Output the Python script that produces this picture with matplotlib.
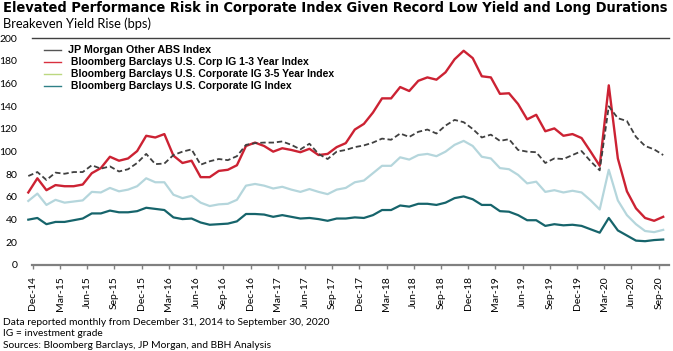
import numpy as np
import matplotlib.pyplot as plt
from matplotlib.lines import Line2D

# monthly values, Nov-14 .. Sep-20
abs_idx = [78.5, 82, 75, 81.5, 80.5, 82, 82, 88, 85, 87, 82.5, 84.5, 90, 98, 89, 89.5,
           97, 100, 102, 88.5, 91.5, 93.5, 92.5, 96, 106, 107.5, 108, 108, 109, 106,
           102, 107, 98, 93.5, 100, 101.5, 104, 105.5, 108, 111.5, 110.5, 116, 113,
           117.5, 119.5, 116, 123, 128, 126, 120, 112.5, 115, 109.5, 111, 101.5, 100,
           99.5, 90, 94, 93.5, 97, 100.5, 91.5, 83.5, 140, 129.5, 127, 113, 105, 102, 97]
corp_1_3 = [64, 76.5, 66, 70.5, 69.5, 69.5, 71, 81, 85.5, 95.5, 92, 94, 100.5, 114, 112.5,
            115.5, 96.5, 90, 92, 77.5, 77.5, 83, 84, 88, 105, 108, 105, 100, 103, 101.5,
            99.5, 102.5, 97, 98, 104, 107.5, 119.5, 124.5, 134.5, 147, 147, 157, 153.5,
            162.5, 165.5, 163.5, 170, 181.5, 189, 182.5, 166.5, 165.5, 151, 151.5, 142,
            128.5, 132.5, 118, 120.5, 114, 115.5, 112, 100, 87.5, 158.5, 94, 65, 50, 41.5,
            39, 42.5]
corp_3_5 = [56.5, 63, 53, 57.5, 55, 56, 57, 64.5, 64, 68, 65, 66.5, 69.5, 76.5, 73, 73, 62,
            59, 61, 55, 52, 53.5, 54, 57.5, 70, 71.5, 70, 67.5, 69, 66.5, 64.5, 67, 64.5,
            62.5, 66.5, 68, 73, 74.5, 81, 87.5, 87.5, 95, 93, 97, 98, 96, 100, 106, 109.5,
            105, 95.5, 94, 85.5, 84.5, 79.5, 72, 73.5, 64.5, 66, 64, 65.5, 64, 57, 49, 84,
            57, 44, 36, 30, 29, 31]
corp_ig = [40, 41.5, 36, 38, 38, 39.5, 41, 45.5, 45.5, 48, 46.5, 46.5, 47.5, 50.5, 49.5,
           48.5, 42, 40.5, 41, 37.5, 35.5, 36, 36.5, 38.5, 45, 45, 44.5, 42.5, 44, 42.5, 41,
           41.5, 40.5, 39, 41, 41, 42, 41.5, 44, 48.5, 48.5, 52.5, 51.5, 54, 54, 53, 55, 59,
           60.5, 58, 53, 53, 47.5, 47, 44, 39.5, 39.5, 34.5, 36, 35, 35.5, 34.5, 31.5, 28.5,
           41.5, 30.5, 26, 21.5, 21, 22, 22.5]

tick_labels = ['Dec-14', 'Mar-15', 'Jun-15', 'Sep-15', 'Dec-15', 'Mar-16', 'Jun-16',
               'Sep-16', 'Dec-16', 'Mar-17', 'Jun-17', 'Sep-17', 'Dec-17', 'Mar-18',
               'Jun-18', 'Sep-18', 'Dec-18', 'Mar-19', 'Jun-19', 'Sep-19', 'Dec-19',
               'Mar-20', 'Jun-20', 'Sep-20']

leg_labels = ['JP Morgan Other ABS Index',
              ' Bloomberg Barclays U.S. Corp IG 1-3 Year Index',
              ' Bloomberg Barclays U.S. Corporate IG 3-5 Year Index',
              ' Bloomberg Barclays U.S. Corporate IG Index']

W, H = 673, 351
fig = plt.figure(figsize=(W / 100, H / 100), dpi=100)
ax = fig.add_axes([32 / W, 1 - 265 / H, (669 - 32) / W, (265 - 38.3) / H])

x = np.arange(len(abs_idx))
ax.plot(x, corp_1_3, color='#cc2233', lw=1.7, clip_on=False)
ax.plot(x, corp_3_5, color='#b5d6dc', lw=1.6, clip_on=False)
ax.plot(x, corp_ig, color='#16646b', lw=1.6, clip_on=False)
ax.plot(x, abs_idx, color='#404040', lw=1.3, ls=(0, (3, 1.6)), clip_on=False)

ax.set_xlim(0.408, 70.64)
ax.set_ylim(0, 200)
ax.set_yticks(np.arange(0, 201, 20))
ax.set_xticks(0.5 + 3 * np.arange(len(tick_labels)))
ax.set_xticklabels(tick_labels, rotation=90, family='Lato', fontsize=7.5)
for t in ax.get_yticklabels():
    t.set_family('Lato')
    t.set_fontsize(7.5)
ax.tick_params(axis='y', length=0, pad=10.5)
ax.tick_params(axis='x', length=3, width=1, color='#808080', pad=5)

for s in ['left', 'right']:
    ax.spines[s].set_visible(False)
ax.spines['bottom'].set_color('#808080')
ax.spines['bottom'].set_linewidth(1.6)
ax.spines['top'].set_color('#404040')
ax.spines['top'].set_linewidth(1.0)

fitted = []  # (text, target width in px)

# legend drawn by hand
leg_colors = ['#555555', '#d9303f', '#bcd880', '#2f8087']
for k, (lab, c) in enumerate(zip(leg_labels, leg_colors)):
    y = 1 - (50 + 12 * k) / H
    fig.add_artist(Line2D([44 / W, 61 / W], [y, y], color=c, lw=1.0))
    t = fig.text(68 / W, y, lab, family='Liberation Sans', weight='bold', fontsize=7.5,
                 va='center', ha='left')
    if k == 0:
        fitted.append((t, 143))

t = fig.text(3 / W, 1 - 8 / H,
             'Elevated Performance Risk in Corporate Index Given Record Low Yield and Long Durations',
             family='DejaVu Sans', stretch='condensed', weight='bold', fontsize=12.5,
             va='center', ha='left')
fitted.append((t, 666))
t = fig.text(3 / W, 1 - 24 / H, 'Breakeven Yield Rise (bps)', family='Lato', fontsize=7.5,
             va='center', ha='left')
fitted.append((t, 148))

notes = ['Data reported monthly from December 31, 2014 to September 30, 2020',
         'IG = investment grade',
         'Sources: Bloomberg Barclays, JP Morgan, and BBH Analysis']
note_txt = []
for k, n in enumerate(notes):
    t = fig.text(3 / W, 1 - (322.5 + 11.5 * k) / H, n, family='Lato', fontsize=6.8,
                 va='center', ha='left')
    note_txt.append(t)

# scale a few texts so their widths match the reference
fig.canvas.draw()
r = fig.canvas.get_renderer()
for t, wpx in fitted:
    w = t.get_window_extent(r).width
    t.set_fontsize(t.get_fontsize() * wpx / w)
w0 = note_txt[0].get_window_extent(r).width
for t in note_txt:
    t.set_fontsize(t.get_fontsize() * 327 / w0)

fig.savefig('out.png', dpi=100)
